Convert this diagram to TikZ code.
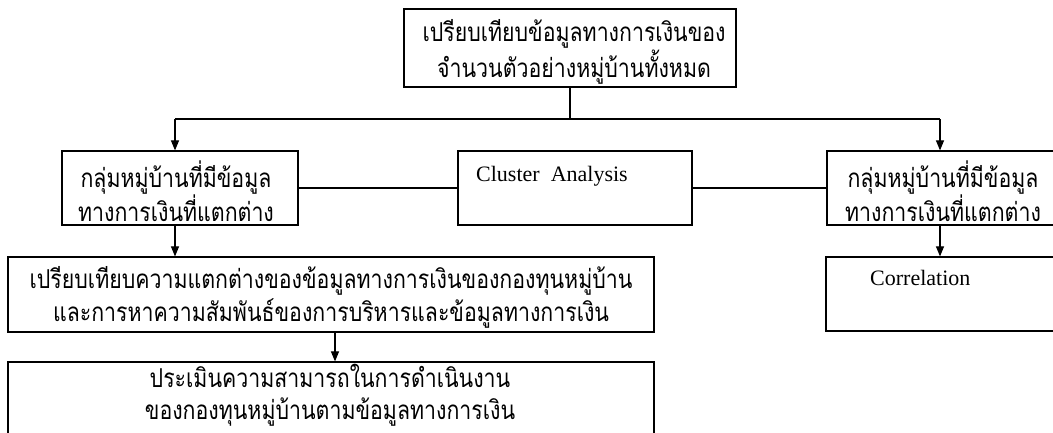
\documentclass[tikz,border=0pt]{standalone}
\usepackage{fontspec}
\setmainfont{Liberation Serif}
\newfontfamily\thaifont[Script=Thai,FakeStretch=0.82]{Loma}
\usetikzlibrary{arrows.meta}
\tikzset{
  box/.style={draw, line width=1.2pt, rectangle, inner sep=0pt},
  thai/.style={font=\thaifont\fontsize{26}{33}\selectfont, align=center, inner sep=0pt},
  latin/.style={font=\fontsize{22}{26}\selectfont, inner sep=0pt},
  conn/.style={line width=1.1pt},
  arr/.style={line width=1.1pt, -{Triangle[length=10pt,width=8pt]}}
}
\begin{document}
\begin{tikzpicture}[x=1pt,y=-1pt]
\useasboundingbox (0,0) rectangle (1053,432);
% boxes
\node[box, minimum width=332pt, minimum height=78pt] (top) at (570,48) {};
\node[box, minimum width=236pt, minimum height=74pt] (lbox) at (180,188) {};
\node[box, minimum width=234pt, minimum height=74pt] (cluster) at (575,188) {};
\node[box, minimum width=229pt, minimum height=74pt] (rbox) at (941.5,188) {};
\node[box, minimum width=646pt, minimum height=75pt] (big) at (331,294.5) {};
\node[box, minimum width=646pt, minimum height=74pt] (eval) at (331,399) {};
\node[box, minimum width=230pt, minimum height=74pt] (corr) at (941,294) {};
% texts
\node[thai] (toptext) at (574,52) {เปรียบเทียบข้อมูลทางการเงินของ\\จำนวนตัวอย่างหมู่บ้านทั้งหมด};
\node[thai] (ltext) at (176,191) {กลุ่มหมู่บ้านที่มีข้อมูล\\ทางการเงินที่แตกต่าง};
\node[thai] (rtext) at (943,191) {กลุ่มหมู่บ้านที่มีข้อมูล\\ทางการเงินที่แตกต่าง};
\node[latin, anchor=west] (ctext) at (476,176) {Cluster\ \ Analysis};
\node[latin, anchor=west] (cortext) at (870,278) {Correlation};
\node[thai] (bigtext) at (331,297) {เปรียบเทียบความแตกต่างของข้อมูลทางการเงินของกองทุนหมู่บ้าน\\และการหาความสัมพันธ์ของการบริหารและข้อมูลทางการเงิน};
\node[thai, font=\thaifont\fontsize{26}{32}\selectfont] (evaltext) at (330,395) {ประเมินความสามารถในการดำเนินงาน\\ของกองทุนหมู่บ้านตามข้อมูลทางการเงิน};
% connectors
\coordinate (hl) at (175,119);
\coordinate (hr) at (940,119);
\coordinate (mid) at (335,332);
\draw[conn] (top.south) -- (top.south |- hl);
\draw[conn] (hl) -- (hr);
\draw[arr] (hl) -- (hl |- lbox.north);
\draw[arr] (hr) -- (hr |- rbox.north);
\draw[conn] (lbox.east) -- (cluster.west);
\draw[conn] (cluster.east) -- (rbox.west);
\draw[arr] (hl |- lbox.south) -- (hl |- big.north);
\draw[arr] (hr |- rbox.south) -- (hr |- corr.north);
\draw[arr] (mid |- big.south) -- (mid |- eval.north);
\end{tikzpicture}
\end{document}
